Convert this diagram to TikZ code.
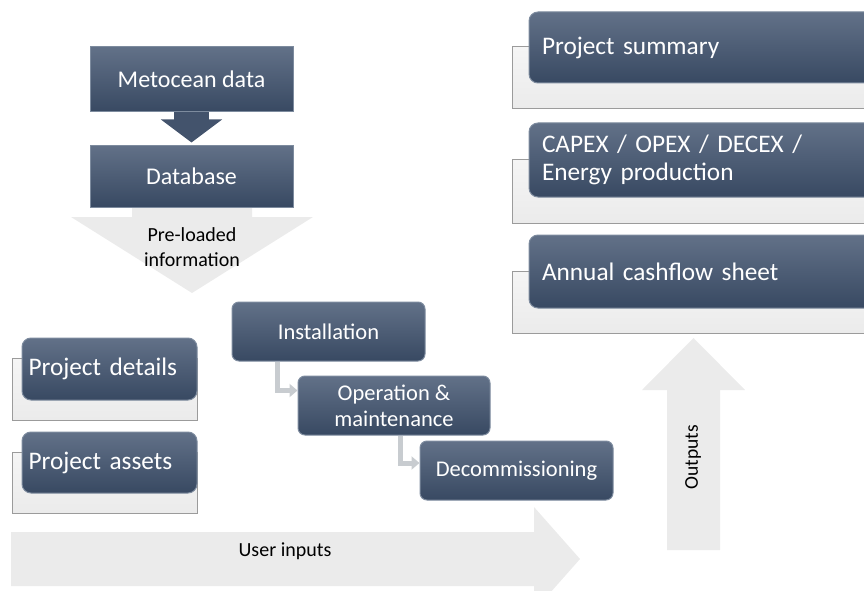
\documentclass[tikz,border=0pt]{standalone}
\usepackage{fontspec}
\setmainfont{Carlito}
\usetikzlibrary{arrows.meta}
\definecolor{boxtop}{RGB}{98,113,136}
\definecolor{boxbot}{RGB}{56,73,98}
\definecolor{boxline}{RGB}{125,139,158}
\definecolor{pale}{RGB}{235,235,235}
\definecolor{paleline}{RGB}{155,155,155}
\definecolor{elbowgray}{RGB}{200,204,208}
\tikzset{
    darkbox/.style = {rectangle, draw=boxline, line width=1pt, top color=boxtop, bottom color=boxbot, text=white, align=center, inner sep=0pt, font=\fontsize{24}{28}\selectfont},
    stepbox/.style = {darkbox, rounded corners=7pt, minimum width=193pt, minimum height=59pt, font=\fontsize{22.5}{26}\selectfont},
    itembox/.style = {darkbox, rounded corners=9pt, align=left, font=\fontsize{25.3}{28}\selectfont},
    backbox/.style = {rectangle, draw=paleline, line width=1pt, top color=white!50!pale, bottom color=pale, inner sep=0pt},
    bigarrow/.style = {fill=pale},
    arrowtext/.style = {font=\fontsize{20}{25}\selectfont, align=center},
    elbow/.style = {elbowgray, line width=5pt, -{Triangle[length=8pt,width=13pt]}},
    blockarrow/.style = {boxbot!75!boxtop, line width=35pt, shorten >=2pt, -{Triangle[length=23pt,width=60pt]}},
}
\begin{document}
\begin{tikzpicture}[x=1pt, y=-1pt]
\clip (0,0) rectangle (864,591);

% big grey arrows
\fill[bigarrow] (132,207) -- (252,207) -- (252,217) -- (313,217) -- (192,293) -- (71,217) -- (132,217) -- cycle;
\fill[bigarrow] (11,532) -- (534,532) -- (534,507) -- (580,559) -- (534,611) -- (534,586) -- (11,586) -- cycle;
\fill[bigarrow] (667,550) -- (667,390) -- (642,390) -- (693.5,338) -- (745,390) -- (720,390) -- (720,550) -- cycle;
\node[arrowtext] at (192, 247) (preload) {Pre-loaded\\information};
\node[arrowtext] at (285, 551) (userin) {User inputs};
\node[arrowtext, font=\fontsize{19.5}{25}\selectfont, rotate=90] at (693, 457) (outp) {Outputs};

% data sources
\node[darkbox, minimum width=203pt, minimum height=65pt] at (191.5, 79.5) (met) {Metocean data};
\node[darkbox, minimum width=203pt, minimum height=62pt] at (191.5, 176) (db) {Database};
\draw[blockarrow] (met.south) -- (db.north);

% user inputs
\node[backbox, minimum width=185pt, minimum height=62pt] at (104.5, 389) (pdback) {};
\node[itembox, minimum width=175pt, minimum height=62pt, text width=162pt] at (109.5, 369) (pd) {Project details};
\node[backbox, minimum width=185pt, minimum height=61pt] at (104.5, 482.5) (paback) {};
\node[itembox, minimum width=175pt, minimum height=61pt, text width=162pt] at (109.5, 462.5) (pa) {Project assets};

% project phases
\node[stepbox] at (328.5, 331.5) (inst) {Installation};
\node[stepbox, minimum width=192pt] at (394, 405.5) (om) {Operation \&\\maintenance};
\node[stepbox] at (516.5, 470.5) (dc) {Decommissioning};
\draw[elbow] ([xshift=-51pt]inst.south) |- ([yshift=15pt]om.west);
\draw[elbow] ([xshift=6pt]om.south) |- ([yshift=7.5pt]dc.west);

% outputs
\node[backbox, minimum width=368pt, minimum height=62pt] at (696, 78) (psback) {};
\node[itembox, minimum width=351pt, minimum height=71pt, text width=325pt] at (704.5, 47.5) (ps) {Project summary};
\node[backbox, minimum width=368pt, minimum height=64pt] at (696, 191) (cxback) {};
\node[itembox, minimum width=351pt, minimum height=74pt, text width=325pt] at (704.5, 160) (cx) {CAPEX / OPEX / DECEX /\\Energy production};
\node[backbox, minimum width=368pt, minimum height=62pt] at (696, 302) (acback) {};
\node[itembox, minimum width=351pt, minimum height=73pt, text width=325pt] at (704.5, 271.5) (ac) {Annual cashflow sheet};

\end{tikzpicture}
\end{document}
